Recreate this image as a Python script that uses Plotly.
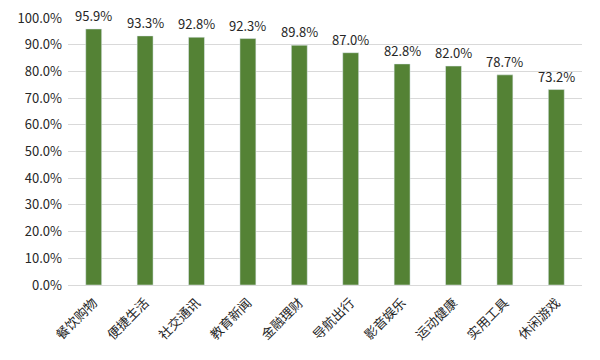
import plotly.graph_objects as go

categories = ["餐饮购物", "便捷生活", "社交通讯", "教育新闻", "金融理财", "导航出行", "影音娱乐", "运动健康", "实用工具", "休闲游戏"]
values = [95.9, 93.3, 92.8, 92.3, 89.8, 87.0, 82.8, 82.0, 78.7, 73.2]
tick_vals = [0, 10, 20, 30, 40, 50, 60, 70, 80, 90, 100]
tick_text = [f"{v:.1f}%" for v in tick_vals]

font = "Noto Sans CJK SC, Microsoft YaHei, sans-serif"

fig = go.Figure(go.Bar(
    x=categories, y=values,
    marker_color="#548235",
    width=0.31,
    cliponaxis=False,
))

for c, v in zip(categories, values):
    fig.add_annotation(x=c, y=v, text=f"{v:.1f}%", showarrow=False,
                       yanchor="bottom", yshift=3, borderpad=0,
                       font=dict(size=13, color="#262626", family=font))

# page body has an 8px default margin; size the figure to fit the 600x360 window
fig.update_layout(
    width=592, height=352, autosize=False,
    margin=dict(l=60, r=18, t=10, b=75, autoexpand=False),
    plot_bgcolor="white", paper_bgcolor="white",
    font=dict(family=font, size=13, color="#262626"),
    showlegend=False,
)
fig.update_yaxes(range=[0, 100], tickvals=tick_vals, ticktext=tick_text,
                 showgrid=True, gridcolor="#d9d9d9", gridwidth=1,
                 zeroline=False, showline=False, ticks="", automargin=False,
                 ticklabelstandoff=5, ticklabeloverflow="allow",
                 tickfont=dict(size=13, color="#262626"))
fig.update_xaxes(tickangle=-45, showline=True, linecolor="#d9d9d9", linewidth=1,
                 ticks="", automargin=False, ticklabelstandoff=4,
                 ticklabeloverflow="allow",
                 tickfont=dict(size=13, color="#262626"))

fig.write_html("out.html")
